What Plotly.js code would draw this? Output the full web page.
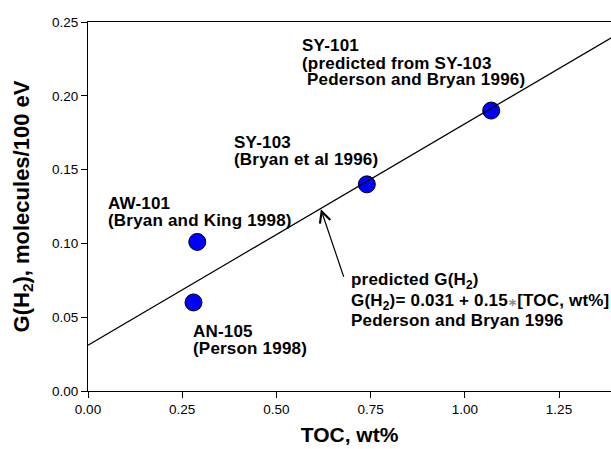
<!DOCTYPE html>
<html>
<head>
<meta charset="utf-8">
<script src="https://cdn.plot.ly/plotly-3.0.1.min.js"></script>
<style>html,body{margin:0;padding:0;background:#fff;}#chart{width:611px;height:449px;}
.annotation-text{letter-spacing:0.2px;}</style>
</head>
<body>
<div id="chart"></div>
<script>
// Data
const tankNames = ["AN-105", "AW-101", "SY-103", "SY-101"];
const tocValues = [0.28, 0.29, 0.74, 1.07];           // TOC, wt%
const gH2Values = [0.060, 0.101, 0.140, 0.190];       // G(H2), molecules/100 eV
const fitX = [0, 1.4];
const fitY = [0.031, 0.241];                          // G(H2)= 0.031 + 0.15*TOC
const xTickVals = [0, 0.25, 0.5, 0.75, 1.0, 1.25];
const xTickText = ["0.00", "0.25", "0.50", "0.75", "1.00", "1.25"];
const yTickVals = [0, 0.05, 0.10, 0.15, 0.20, 0.25];
const yTickText = ["0.00", "0.05", "0.10", "0.15", "0.20", "0.25"];

const labelLines = [
  {t: "SY-101", x: 0.562, y: 0.2339},
  {t: "(predicted from SY-103", x: 0.562, y: 0.2221},
  {t: "Pederson and Bryan 1996)", x: 0.576, y: 0.2109},
  {t: "SY-103", x: 0.3815, y: 0.1682},
  {t: "(Bryan et al 1996)", x: 0.3815, y: 0.1566},
  {t: "AW-101", x: 0.047, y: 0.1268},
  {t: "(Bryan and King 1998)", x: 0.047, y: 0.1153},
  {t: "AN-105", x: 0.2726, y: 0.0405},
  {t: "(Person 1998)", x: 0.2726, y: 0.0288},
  {t: "predicted G(H<sub>2</sub>)", x: 0.6934, y: 0.0745},
  {t: "G(H<sub>2</sub>)= 0.031 + 0.15<span style=\"color:#8c8c8c;font-size:11px\">∗</span>[TOC, wt%]", x: 0.6934, y: 0.0606},
  {t: "Pederson and Bryan 1996", x: 0.6934, y: 0.0475}
];
const arrowTip = {x: 0.618, y: 0.1232};
const arrowTail = {x: 0.680, y: 0.0764};

const FONT = "Liberation Sans, Arial, Helvetica, sans-serif";

const traces = [
  {
    type: "scatter", mode: "markers", x: tocValues, y: gH2Values, text: tankNames,
    marker: {size: 17, color: "rgb(0,0,255)", line: {color: "#000", width: 1}},
    hoverinfo: "text+x+y", showlegend: false
  },
  {
    type: "scatter", mode: "lines", x: fitX, y: fitY,
    line: {color: "#000", width: 1.2}, showlegend: false, hoverinfo: "skip"
  }
];

const annotations = labelLines.map(l => ({
  x: l.x, y: l.y, xref: "x", yref: "y", text: l.t, showarrow: false,
  xanchor: "left", yanchor: "middle",
  font: {family: FONT, size: 17, color: "#000", weight: "bold"}
}));
annotations.push({
  x: arrowTip.x, y: arrowTip.y, ax: arrowTail.x, ay: arrowTail.y,
  xref: "x", yref: "y", axref: "x", ayref: "y", text: "",
  showarrow: true, arrowhead: 5, arrowsize: 1.8, arrowwidth: 1.2, arrowcolor: "#000"
});

const layout = {
  width: 611, height: 449,
  margin: {l: 88, r: 0, t: 22, b: 58},
  paper_bgcolor: "#fff", plot_bgcolor: "#fff",
  font: {family: FONT, color: "#000"},
  showlegend: false,
  xaxis: {
    range: [0, 1.388], tickvals: xTickVals, ticktext: xTickText,
    showline: true, linecolor: "#000", linewidth: 1, mirror: true,
    ticks: "outside", ticklen: 6, tickcolor: "#000", tickwidth: 1,
    showgrid: false, zeroline: false,
    tickfont: {family: FONT, size: 13.5, color: "#000"},
    title: {text: "TOC, wt%", font: {family: FONT, size: 21, color: "#000", weight: "bold"}, standoff: 11},
    automargin: false
  },
  yaxis: {
    range: [0, 0.25], tickvals: yTickVals, ticktext: yTickText,
    showline: true, linecolor: "#000", linewidth: 1,
    ticks: "outside", ticklen: 6, tickcolor: "#000", tickwidth: 1,
    showgrid: false, zeroline: false,
    tickfont: {family: FONT, size: 13.5, color: "#000"},
    title: {text: "G(H<sub>2</sub>), molecules/100 eV", font: {family: FONT, size: 22, color: "#000", weight: "bold"}, standoff: 16},
    automargin: false
  },
  annotations: annotations
};

Plotly.newPlot("chart", traces, layout, {displayModeBar: false, staticPlot: true});
</script>
</body>
</html>
